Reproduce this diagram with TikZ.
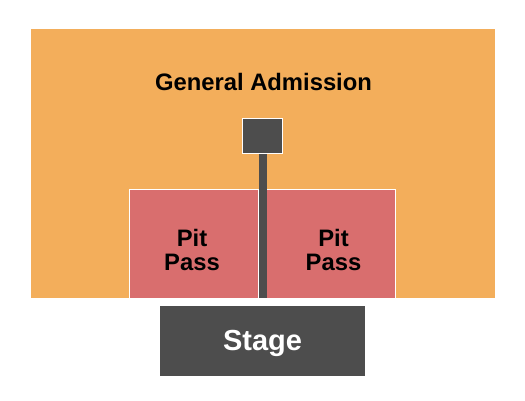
\documentclass[tikz,border=0pt]{standalone}
\usepackage{fontspec}
\setmainfont{Liberation Sans}
\definecolor{gacol}{HTML}{F3AE5B}
\definecolor{pitcol}{HTML}{D96E6E}
\definecolor{darkcol}{HTML}{4D4D4D}
\begin{document}
\begin{tikzpicture}[x=1pt,y=-1pt,
  area/.style={anchor=north west,inner sep=0pt,outer sep=0pt},
  gabox/.style={area,fill=gacol},
  pitbox/.style={area,fill=pitcol,draw=white,line width=1pt},
  darkbox/.style={area,fill=darkcol},
  lbl/.style={anchor=base,inner sep=0pt,font=\bfseries\fontsize{23.8}{24}\selectfont},
  stagelbl/.style={anchor=base,inner sep=0pt,text=white,font=\bfseries\fontsize{29}{30}\selectfont}]
\fill[white] (0,0) rectangle (525,400);
\useasboundingbox (0,0) rectangle (525,400);
\node[gabox,minimum width=464pt,minimum height=269pt] (ga) at (31,29) {};
\node[pitbox,minimum width=129pt,minimum height=109pt] (pitl) at (129.5,189.5) {};
\node[pitbox,minimum width=129pt,minimum height=109pt] (pitr) at (266.5,189.5) {};
\node[darkbox,minimum width=8pt,minimum height=146pt] (bar) at (258.5,152) {};
\node[darkbox,draw=white,line width=1pt,minimum width=40pt,minimum height=35pt] (sq) at (242.5,118.5) {};
\node[darkbox,minimum width=205pt,minimum height=70pt] (stage) at (160,306) {};
\node[lbl] (galbl) at (263.5,90) {General Admission};
\node[lbl] (pitl1) at (192,246) {Pit};
\node[lbl] (pitl2) at (192,270.5) {Pass};
\node[lbl] (pitr1) at (333.5,246) {Pit};
\node[lbl] (pitr2) at (333.5,270.5) {Pass};
\node[stagelbl] (stlbl) at (262.5,350) {Stage};
\end{tikzpicture}
\end{document}
